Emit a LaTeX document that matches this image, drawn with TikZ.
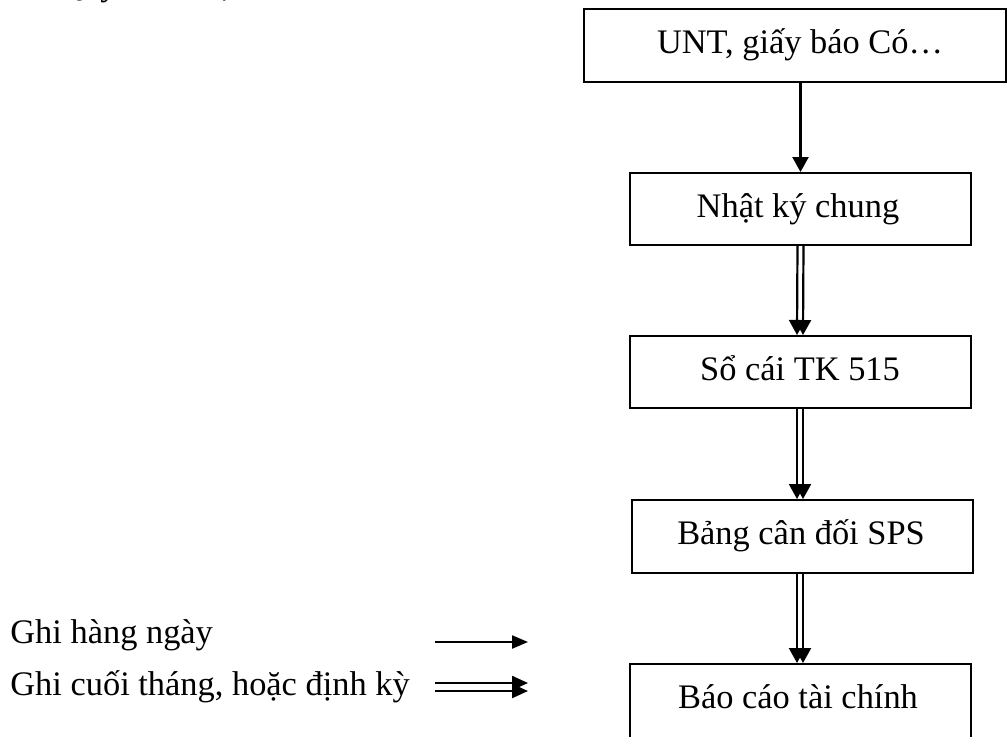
\documentclass[tikz,border=0pt]{standalone}
\usepackage{fontspec}
\setmainfont{Liberation Serif}
\usetikzlibrary{arrows.meta}
\begin{document}
\begin{tikzpicture}[x=0.5pt,y=-0.5pt,
  every node/.style={font=\fontsize{17.2pt}{20pt}\selectfont},
  flowbox/.style={draw,line width=1pt,inner sep=0pt,minimum width=170.5pt,minimum height=36pt},
  boxtext/.style={anchor=base,inner sep=0pt},
  single/.style={line width=1.1pt,-{Triangle[width=8pt,length=7.5pt]}},
  dbl/.style={line width=1.1pt,-{Triangle[width=8pt,length=7.5pt]}},
  legtext/.style={anchor=base west,inner sep=0pt}]
\path[use as bounding box] (0,0) rectangle (1008,736);
\clip (0,0) rectangle (1008,736);
% clipped title
\node[legtext] (title) at (58,-5) {Quy trình hạch toán};
% boxes
\node[flowbox,minimum width=211pt,minimum height=36.5pt] (b1) at (795,45.5) {};
\node[flowbox] (b2) at (800.5,209) {};
\node[flowbox] (b3) at (800,372) {};
\node[flowbox,minimum height=36.5pt] (b4) at (802,536.5) {};
\node[flowbox,minimum height=37pt] (b5) at (800,701) {};
% texts
\node[boxtext] (t1) at (800,53) {UNT, giấy báo Có…};
\node[boxtext] (t2) at (798,217) {Nhật ký chung};
\node[boxtext] (t3) at (800,380) {Sổ cái TK 515};
\node[boxtext] (t4) at (801,544) {Bảng cân đối SPS};
\node[boxtext] (t5) at (798,708) {Báo cáo tài chính};
% arrows
\draw[single] (b1.south -| b2.north) -- (b2.north);
\foreach \s in {-3,3}{
  \draw[dbl] ([xshift=\s*0.5pt]b2.south) -- ([xshift=\s*0.5pt]b3.north);
  \draw[dbl] ([xshift=\s*0.5pt]b3.south) -- ([xshift=\s*0.5pt]b4.north -| b3.south);
  \draw[dbl] ([xshift=\s*0.5pt]b4.south -| b5.north) -- ([xshift=\s*0.5pt]b5.north);
}
% legend
\node[legtext] (l1) at (10,643) {Ghi hàng ngày};
\node[legtext] (l2) at (10,695) {Ghi cuối tháng, hoặc định kỳ};
\coordinate (a1s) at (435,642);
\coordinate (a1e) at (528,642);
\coordinate (a2s) at (435,687);
\coordinate (a2e) at (528,687);
\draw[line width=1.1pt,-{Triangle[width=6.5pt,length=8pt]}] (a1s) -- (a1e);
\foreach \s in {-4,4}{
  \draw[line width=1.2pt,-{Triangle[width=7pt,length=8pt]}] ([yshift=\s*0.5pt]a2s) -- ([yshift=\s*0.5pt]a2e);
}
\end{tikzpicture}
\end{document}
